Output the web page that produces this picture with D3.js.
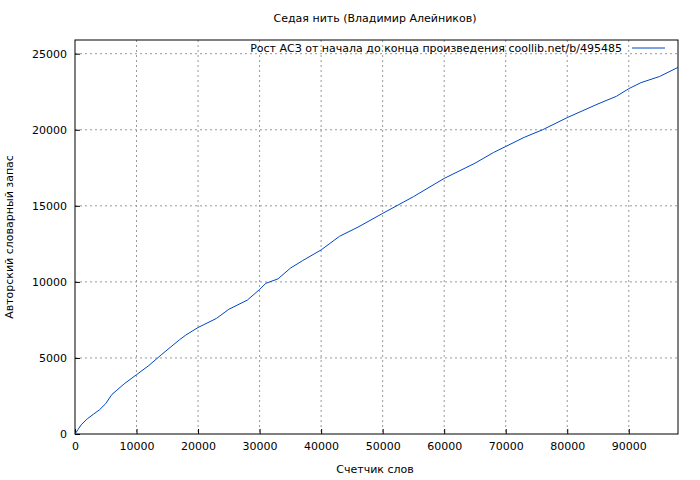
<!DOCTYPE html>
<html><head><meta charset="utf-8">
<script src="https://cdn.jsdelivr.net/npm/d3@7"></script>
<style>
body{margin:0;background:#fff}
text{font-family:"DejaVu Sans",sans-serif;font-size:11px;fill:#000}
</style></head>
<body><div id="chart"></div>
<script>
// word counter vs. author vocabulary
var words = [0, 500, 1000, 2000, 3000, 4000, 5000, 6000, 8000, 10000, 12000, 14000, 17000, 18000, 20000, 23000, 25000, 28000, 30000, 31000, 33000, 35000, 37000, 40000, 43000, 46000, 50000, 55000, 60000, 65000, 68000, 70000, 73000, 76000, 80000, 85000, 88000, 90000, 92000, 95000, 98000];
var vocab = [0, 300, 600, 1000, 1300, 1600, 2000, 2600, 3300, 3900, 4500, 5200, 6200, 6500, 7000, 7600, 8200, 8800, 9500, 9900, 10200, 10900, 11400, 12100, 13000, 13600, 14500, 15600, 16800, 17800, 18500, 18900, 19500, 20000, 20800, 21700, 22200, 22700, 23100, 23500, 24100];
var xTicks = [0, 10000, 20000, 30000, 40000, 50000, 60000, 70000, 80000, 90000];
var yTicks = [0, 5000, 10000, 15000, 20000, 25000];

var svgWidth = 700, svgHeight = 480;
var margin = {top: 40, right: 22, bottom: 46, left: 75};
var width = svgWidth - margin.left - margin.right;
var height = svgHeight - margin.top - margin.bottom;

var svg = d3.select("#chart").append("svg")
  .attr("width", svgWidth).attr("height", svgHeight);
var g = svg.append("g").attr("transform", `translate(${margin.left},${margin.top})`);

var x = d3.scaleLinear().domain([0, 98000]).range([0, width]);
var y = d3.scaleLinear().domain([0, 25900]).range([height, 0]);

// grid
g.selectAll(".gx").data(xTicks.slice(1)).enter().append("line")
  .attr("x1", d => x(d)).attr("x2", d => x(d)).attr("y1", 0).attr("y2", height)
  .attr("stroke", "#999").attr("stroke-dasharray", "2,3");
g.selectAll(".gy").data(yTicks.slice(1)).enter().append("line")
  .attr("y1", d => y(d)).attr("y2", d => y(d)).attr("x1", 0).attr("x2", width)
  .attr("stroke", "#999").attr("stroke-dasharray", "2,3");

// axes
var xAxis = g.append("g").attr("transform", `translate(0,${height})`)
  .call(d3.axisBottom(x).tickValues(xTicks).tickFormat(d3.format("d")).tickSizeInner(-5).tickSizeOuter(0).tickPadding(8));
var yAxis = g.append("g")
  .call(d3.axisLeft(y).tickValues(yTicks).tickFormat(d3.format("d")).tickSizeInner(-5).tickSizeOuter(0).tickPadding(8));
[xAxis, yAxis].forEach(a => {
  a.select(".domain").remove();
  a.selectAll("text").style("font-size", "11px").style("font-family", "DejaVu Sans");
});
g.append("rect").attr("width", width).attr("height", height)
  .attr("fill", "none").attr("stroke", "#000");

// line
g.append("path").datum(words.map((w, i) => [w, vocab[i]]))
  .attr("fill", "none").attr("stroke", "#0047c8").attr("stroke-width", 1)
  .attr("d", d3.line().x(d => x(d[0])).y(d => y(d[1])));

// titles
svg.append("text").attr("x", 375).attr("y", 22).attr("text-anchor", "middle")
  .text("Седая нить (Владимир Алейников)");
svg.append("text").attr("x", 375).attr("y", 473).attr("text-anchor", "middle")
  .text("Счетчик слов");
svg.append("text").attr("transform", "translate(13,237) rotate(-90)").attr("text-anchor", "middle")
  .text("Авторский словарный запас");

// legend
svg.append("text").attr("x", 622).attr("y", 52).attr("text-anchor", "end")
  .text("Рост АСЗ от начала до конца произведения coollib.net/b/495485");
svg.append("line").attr("x1", 632).attr("x2", 665).attr("y1", 48).attr("y2", 48)
  .attr("stroke", "#0047c8");
</script></body></html>
